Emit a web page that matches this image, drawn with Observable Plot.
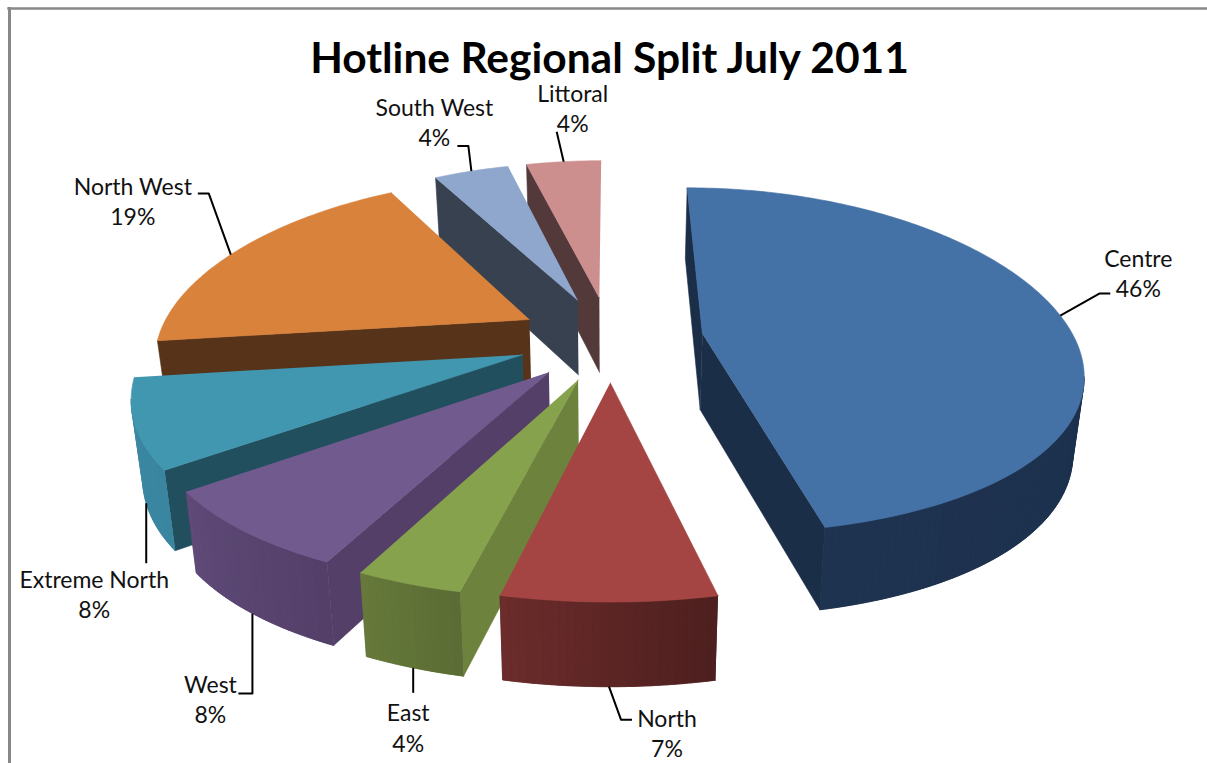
<!DOCTYPE html>
<html>
<head>
<meta charset="utf-8">
<script src="https://cdn.jsdelivr.net/npm/d3@7"></script>
<script src="https://cdn.jsdelivr.net/npm/@observablehq/plot@0.6"></script>
<style>
html,body{margin:0;padding:0;background:#fff}
svg{display:block}
</style>
</head>
<body>
<div id="chart"></div>
<script>
const regions = ["Centre","North","East","West","Extreme North","North West","South West","Littoral"];
const shares  = [46.49,7.1,3.6,7.6,8.2,19,4,4.01];
const topColors  = ["#4471a6","#a54543","#87a24d","#705a8e","#4197b0","#d9823b","#8fa6cd","#cd8e8e"];
const cutColors  = ["#1b2e48","#6b2c2b","#6d823d","#533f68","#224f5e","#57331a","#37414f","#53393a"];
const wallStart  = ["#1b2e48","#4d1f1e","#5b6c34","#533f68","#3a85a0","#57331a","#37414f","#53393a"];
const wallEnd    = ["#1e3350","#6b2c2b","#66793a","#5f4a78","#3e8aa5","#57331a","#37414f","#53393a"];

// Perspective model of the tilted pie (plane units: radius = 1)
const view = {x0:610, y0:338, A:372, B:170, px:.2, py:.155, depth:76, squeeze:.024, explode:.25};
const project = (u, v, low) => {
  const wx = 1 + view.px*v, wy = 1 + view.py*v;
  let X = view.x0 + view.A*u/wx, Y = view.y0 - view.B*v/wy;
  if (low) { Y += view.depth/Math.sqrt(wy); X = view.x0 + (X-view.x0)*(1-view.squeeze); }
  return [X,Y];
};

// label layout: arc fraction of the leader, rim (0 top, 1 bottom), leader bends and text offset from the anchor
const labelLayout = {
  "Centre":        {t:.5,  low:0, bends:[[39,-22],[50,-22]], text:[78,-43]},
  "North":         {t:.5,  low:1, bends:[[12,33],[23,33]],   text:[58,46]},
  "East":          {t:.5,  low:1, bends:[[0,25]],            text:[-5,59]},
  "West":          {t:.5,  low:1, bends:[[0,80],[-14,80]],   text:[-42,85]},
  "Extreme North": {t:.5,  low:1, bends:[[0,60]],            text:[-52,90]},
  "North West":    {t:.47, low:0, bends:[[-22,-61],[-33,-61]], text:[-98,-54]},
  "South West":    {t:.5,  low:0, bends:[[-3,-25],[-14,-25]],  text:[-37,-49.5]},
  "Littoral":      {t:.5,  low:0, bends:[[-7,-30]],           text:[9,-54.5]}
};

const total = d3.sum(shares);
let cum = 0;
const slices = regions.map((name,i) => {
  const a0 = cum/total*2*Math.PI; cum += shares[i]; const a1 = cum/total*2*Math.PI;
  const mid = (a0+a1)/2;
  const cx = view.explode*Math.sin(mid), cy = view.explode*Math.cos(mid);
  return {name, i, a0, a1, cx, cy, share:Math.round(shares[i])};
});
const rim = (s,a) => [s.cx+Math.sin(a), s.cy+Math.cos(a)];

const polys = [];
const add = (id,color,pts) => pts.forEach(p => polys.push({id,color,x:p[0],y:p[1]}));
const order = slices.slice().sort((p,q)=>project(p.cx,p.cy)[1]-project(q.cx,q.cy)[1]);
for (const s of order) {
  const n = Math.max(6,Math.round((s.a1-s.a0)*180/Math.PI));
  const arc = d3.range(n+1).map(k => rim(s,s.a0+(s.a1-s.a0)*k/n));
  const outline = [[s.cx,s.cy],...arc];
  const wall = (P,Q,id,color,minRun=0) => {
    const a=project(P[0],P[1]), b=project(Q[0],Q[1]);
    if (a[0]-b[0]<=minRun) return;
    add(id,color,[a,b,project(Q[0],Q[1],true),project(P[0],P[1],true)]);
  };
  wall(outline[0],outline[1],`${s.i}-a`,cutColors[s.i],3);
  wall(outline[outline.length-1],outline[0],`${s.i}-b`,cutColors[s.i],3);
  const shade = d3.interpolateRgb(wallStart[s.i],wallEnd[s.i]);
  // one flat underlay for the visible stretch of the rim, then its shaded facets
  const seen = d3.range(n).filter(k => project(...arc[k+1])[0] < project(...arc[k])[0]);
  if (seen.length) {
    const run = [...seen.map(k=>arc[k]), arc[seen[seen.length-1]+1]];
    add(`${s.i}-under`,d3.color(shade(.5)).formatHex(),[...run.map(p=>project(p[0],p[1])),...run.slice().reverse().map(p=>project(p[0],p[1],true))]);
  }
  d3.range(n).forEach(k => wall(arc[k],arc[k+1],`${s.i}-w${k}`,d3.color(shade(k/(n-1||1))).formatHex()));
  add(`${s.i}-top`,topColors[s.i],outline.map(p=>project(p[0],p[1])));
}

const leaders=[], labels=[];
for (const s of slices) {
  const L = labelLayout[s.name];
  const r = rim(s,s.a0+(s.a1-s.a0)*L.t);
  const A = project(r[0],r[1],!!L.low);
  leaders.push({id:s.name,x:A[0],y:A[1]});
  L.bends.forEach(b=>leaders.push({id:s.name,x:A[0]+b[0],y:A[1]+b[1]}));
  labels.push({text:`${s.name}\n${s.share}%`,x:A[0]+L.text[0],y:A[1]+L.text[1]});
}

const chart = Plot.plot({
  width:1207,height:763,margin:0,
  x:{domain:[0,1207],range:[0,1207],axis:null},
  y:{domain:[0,763],range:[0,763],axis:null},
  color:{type:"identity"},
  style:{background:"#fff"},
  marks:[
    Plot.frame({anchor:"left",insetLeft:9,insetTop:8,stroke:"#888",strokeWidth:3}),
    Plot.frame({anchor:"top",insetLeft:8,insetTop:8,stroke:"#888",strokeWidth:2.5}),
    Plot.line(polys,{x:"x",y:"y",z:"id",fill:"color",stroke:"color",strokeWidth:.6}),
    Plot.line(leaders,{x:"x",y:"y",z:"id",stroke:"#000",strokeWidth:2,strokeLinecap:"butt"}),
    Plot.text(labels,{x:"x",y:"y",text:"text",fontFamily:"Lato",fontSize:23,lineHeight:1.31,fill:"#111"}),
    Plot.text(["Hotline Regional Split July 2011"],{frameAnchor:"top",dy:42,dx:5.5,fontFamily:"Lato",fontWeight:700,fontSize:42.5,fill:"#000"})
  ]
});
document.getElementById("chart").append(chart);
</script>
</body>
</html>
